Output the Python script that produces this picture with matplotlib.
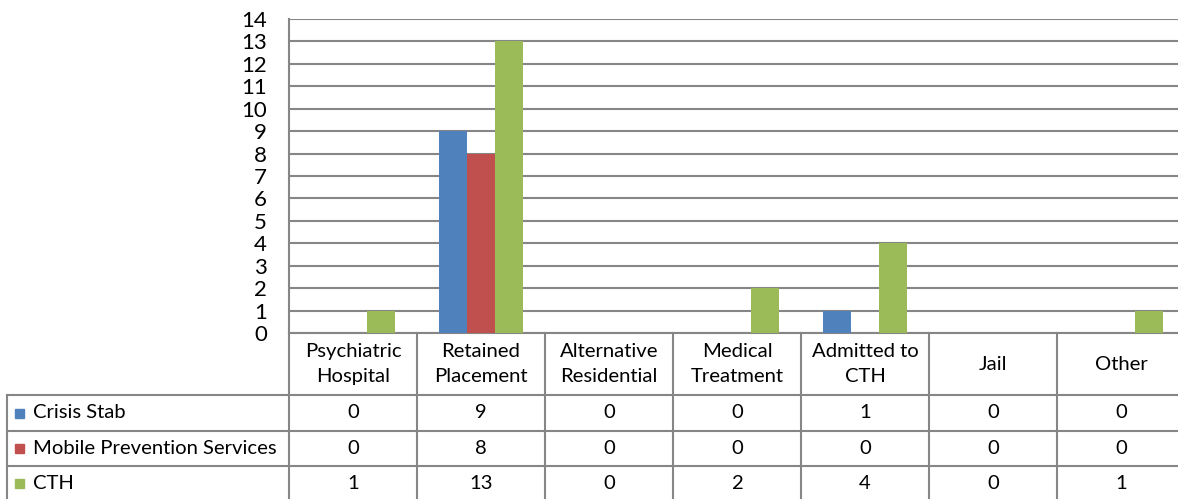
import matplotlib.pyplot as plt
from matplotlib.patches import Rectangle

categories = ['Psychiatric\nHospital', 'Retained\nPlacement', 'Alternative\nResidential',
              'Medical\nTreatment', 'Admitted to\nCTH', 'Jail', 'Other']
series_names = ['Crisis Stab', 'Mobile Prevention Services', 'CTH']
crisis_stab = [0, 9, 0, 0, 1, 0, 0]
mobile_prev = [0, 8, 0, 0, 0, 0, 0]
cth = [1, 13, 0, 2, 4, 0, 1]
colors = ['#4F81BD', '#C0504D', '#9BBB59']

plt.rcParams['font.family'] = ['Lato', 'DejaVu Sans']
W, H = 1178, 499
grid_c = '#868686'
fs = 14.6
fig = plt.figure(figsize=(W / 100, H / 100), dpi=100)

# plot area in pixels
px_l, px_r, px_t, px_b = 289, 1185, 19, 333
ax = fig.add_axes([px_l / W, (H - px_b) / H, (px_r - px_l) / W, (px_b - px_t) / H])
cw = (px_r - px_l) / len(categories)

data = [crisis_stab, mobile_prev, cth]
bw = 0.219
x = list(range(len(categories)))
for k, (vals, c) in enumerate(zip(data, colors)):
    ax.bar([i + (k - 1) * bw for i in x], vals, width=bw, color=c, zorder=3)

ax.set_xlim(-0.5, len(categories) - 0.5)
ax.set_ylim(0, 14)
ax.set_yticks(range(0, 15))
ax.tick_params(axis='y', length=0, labelsize=16, pad=16, colors='black')
ax.tick_params(axis='x', length=0, labelbottom=False)
ax.grid(axis='y', color=grid_c, lw=1.5, zorder=0)
for s in ['top', 'right']:
    ax.spines[s].set_visible(False)
ax.spines['left'].set_color(grid_c)
ax.spines['left'].set_linewidth(1.5)
ax.spines['bottom'].set_color(grid_c)
ax.spines['bottom'].set_linewidth(1.5)

# data table below the plot
tx = fig.add_axes([0, 0, px_r / W, (H - px_b) / H])
x0 = -0.5 - px_l / cw
tx.set_xlim(x0, len(categories) - 0.5)
tx.set_ylim(H, px_b)
tx.axis('off')
row_edges = [px_b, 395, 431, 466, 501]
lab_left = x0 + 7 / cw
lc = dict(color=grid_c, lw=1.5, clip_on=False)
# vertical lines
for i in range(len(categories) + 1):
    tx.plot([i - 0.5, i - 0.5], [row_edges[0], row_edges[-1]], **lc)
tx.plot([lab_left, lab_left], [row_edges[1], row_edges[-1]], **lc)
# horizontal lines
for y in row_edges[1:]:
    tx.plot([lab_left, len(categories) - 0.5], [y, y], **lc)

for i, cat in enumerate(categories):
    tx.text(i, (row_edges[0] + row_edges[1]) / 2, cat, ha='center', va='center',
            fontsize=fs, linespacing=1.55)
for r, (name, vals, c) in enumerate(zip(series_names, data, colors)):
    yc = (row_edges[r + 1] + row_edges[r + 2]) / 2
    tx.add_patch(Rectangle((x0 + 15 / cw, yc - 4.5), 9 / cw, 9, color=c, clip_on=False))
    tx.text(x0 + 33 / cw, yc, name, ha='left', va='center', fontsize=fs)
    for i, v in enumerate(vals):
        tx.text(i, yc, str(v), ha='center', va='center', fontsize=fs)

fig.savefig('out.png', dpi=100)
